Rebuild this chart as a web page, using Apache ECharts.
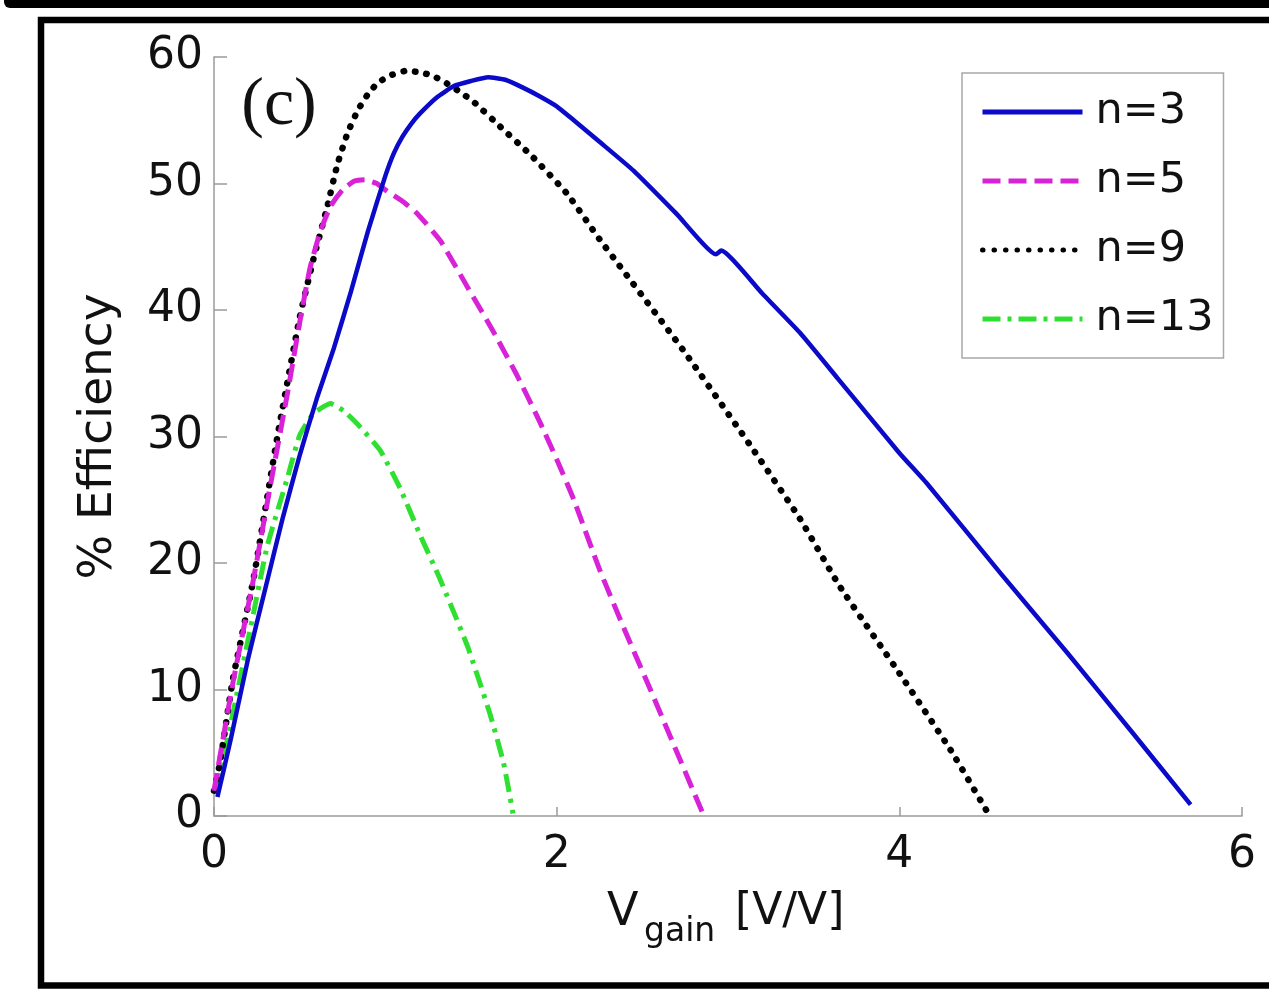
<!DOCTYPE html>
<html>
<head>
<meta charset="utf-8">
<script src="https://cdn.jsdelivr.net/npm/echarts@6/dist/echarts.min.js"></script>
<style>
html,body{margin:0;padding:0;background:#fff;}
#chart{width:1269px;height:989px;}
</style>
</head>
<body>
<div id="chart"></div>
<script>
// ---- data ----
const seriesNames = ['n=3', 'n=5', 'n=9', 'n=13'];
const xTicks = [0, 2, 4, 6];
const yTicks = [0, 10, 20, 30, 40, 50, 60];

const n3 = [[0.02,1.5],[0.1,6.2],[0.2,12.5],[0.3,18],[0.4,23.5],[0.5,28.5],[0.6,33],[0.7,37],[0.8,41.5],
  [0.9,46.3],[1.0,50.6],[1.05,52.4],[1.1,53.7],[1.15,54.7],[1.2,55.5],[1.3,56.8],[1.4,57.7],[1.5,58.1],
  [1.6,58.4],[1.7,58.2],[1.8,57.6],[1.9,56.9],[2.0,56.1],[2.1,55],[2.25,53.3],[2.45,51],[2.7,47.6],
  [2.93,44.4],[2.96,44.7],[3.2,41.3],[3.42,38.2],[3.64,34.6],[4.0,28.7],[4.16,26.3],[4.59,19.2],
  [4.98,12.9],[5.36,6.6],[5.70,0.9]];
const n5 = [[0.0,2],[0.11,10.5],[0.23,18.7],[0.33,26.2],[0.43,33.5],[0.5,39],[0.56,43.3],[0.62,46.2],
  [0.68,48.2],[0.75,49.5],[0.82,50.2],[0.88,50.3],[0.95,50],[1.01,49.4],[1.1,48.6],[1.18,47.7],
  [1.32,45.5],[1.48,41.8],[1.63,38.3],[1.77,34.8],[1.9,31.2],[2.0,28.2],[2.1,25],[2.25,19.5],
  [2.4,14.6],[2.55,9.9],[2.7,5.1],[2.85,0.3]];
const n9 = [[0.0,2],[0.035,4.2],[0.11,10.8],[0.23,18.7],[0.37,30],[0.5,39.4],[0.58,44],[0.66,48.1],
  [0.72,51.5],[0.78,54],[0.84,55.8],[0.9,57.1],[0.96,58],[1.04,58.6],[1.12,58.9],[1.2,58.8],
  [1.28,58.5],[1.36,57.9],[1.44,57.2],[1.52,56.4],[1.67,54.5],[1.86,52.1],[2.06,49.2],[2.25,45.6],
  [2.35,43.8],[2.74,36.8],[3.13,29.3],[3.42,23.5],[3.65,18.2],[4.0,11.3],[4.30,5.2],[4.51,0.4]];
const n13 = [[0.015,2],[0.11,8.1],[0.23,16],[0.31,21.3],[0.43,26.8],[0.5,30.1],[0.58,31.8],[0.68,32.6],
  [0.76,32],[0.85,30.8],[0.97,28.9],[1.09,25.8],[1.2,22.3],[1.32,18.7],[1.48,13.4],[1.61,8.1],
  [1.69,4.2],[1.745,0.2]];
const seriesData = [n3, n5, n9, n13];

const FONT = 'DejaVu Sans';
const axisGrey = '#9a9a9a';

const styles = [
  {color:'#0a0ac8', width:4.5, type:'solid'},
  {color:'#d822d8', width:5, type:[18,8]},
  {color:'#000000', width:6.5, type:[0.5,11], cap:'round'},
  {color:'#30e030', width:5, type:[18,7,4,7]}
];

const chart = echarts.init(document.getElementById('chart'), null, {renderer:'canvas'});
chart.setOption({
  animation:false,
  backgroundColor:'#ffffff',
  grid:{left:214, right:27, top:57, bottom:173, containLabel:false},
  xAxis:{
    type:'value', min:xTicks[0], max:xTicks[xTicks.length-1], interval:2,
    axisLine:{show:true, onZero:false, lineStyle:{color:axisGrey, width:1.5}},
    axisTick:{show:true, inside:true, length:9, lineStyle:{color:axisGrey, width:1.5}},
    axisLabel:{color:'#111', fontFamily:FONT, fontSize:44, margin:18},
    splitLine:{show:false}
  },
  yAxis:{
    type:'value', min:yTicks[0], max:yTicks[yTicks.length-1], interval:10,
    name:'% Efficiency', nameLocation:'middle', nameGap:92, nameRotate:90,
    nameTextStyle:{color:'#111', fontFamily:FONT, fontSize:47},
    axisLine:{show:true, onZero:false, lineStyle:{color:axisGrey, width:1.5}},
    axisTick:{show:true, inside:true, length:13, lineStyle:{color:axisGrey, width:1.5}},
    axisLabel:{color:'#111', fontFamily:FONT, fontSize:44, margin:11},
    splitLine:{show:false}
  },
  legend:{
    orient:'vertical', left:962, top:73,
    padding:[16,10,16,18],
    itemWidth:100, itemHeight:14, itemGap:23,
    backgroundColor:'#ffffff', borderColor:'#a8a8a8', borderWidth:1.5, borderRadius:0,
    itemStyle:{opacity:0},
    lineStyle:{width:5},
    textStyle:{fontFamily:FONT, fontSize:43, color:'#111', lineHeight:46, padding:[0,0,0,8]},
    data:seriesNames
  },
  series: seriesNames.map((nm, i) => ({
    name:nm, type:'line', data:seriesData[i], symbol:'none', showSymbol:false,
    smooth:0.15,
    z: 10 - i,
    lineStyle:{color:styles[i].color, width:styles[i].width, type:styles[i].type, cap:styles[i].cap || 'butt', join:'round'},
    itemStyle:{color:styles[i].color}
  })),
  graphic:[
    {type:'rect', z:100, shape:{x:4, y:-12, width:1300, height:20, r:6}, style:{fill:'#000'}},
    {type:'rect', z:100, shape:{x:41, y:20, width:1300, height:965.5}, style:{fill:'none', stroke:'#000', lineWidth:6.5}},
    {type:'text', z:50, x:279, y:106, style:{text:'(c)', font:'68px "Liberation Serif"', fill:'#111', align:'center', verticalAlign:'middle'}},
    {type:'text', z:50, x:607, y:913, style:{text:'V', font:'46px "DejaVu Sans"', fill:'#111', align:'left', verticalAlign:'middle'}},
    {type:'text', z:50, x:644, y:932, style:{text:'gain', font:'33px "DejaVu Sans"', fill:'#111', align:'left', verticalAlign:'middle'}},
    {type:'text', z:50, x:735, y:913, style:{text:'[V/V]', font:'44px "DejaVu Sans"', fill:'#111', align:'left', verticalAlign:'middle'}}
  ]
});
</script>
</body>
</html>
